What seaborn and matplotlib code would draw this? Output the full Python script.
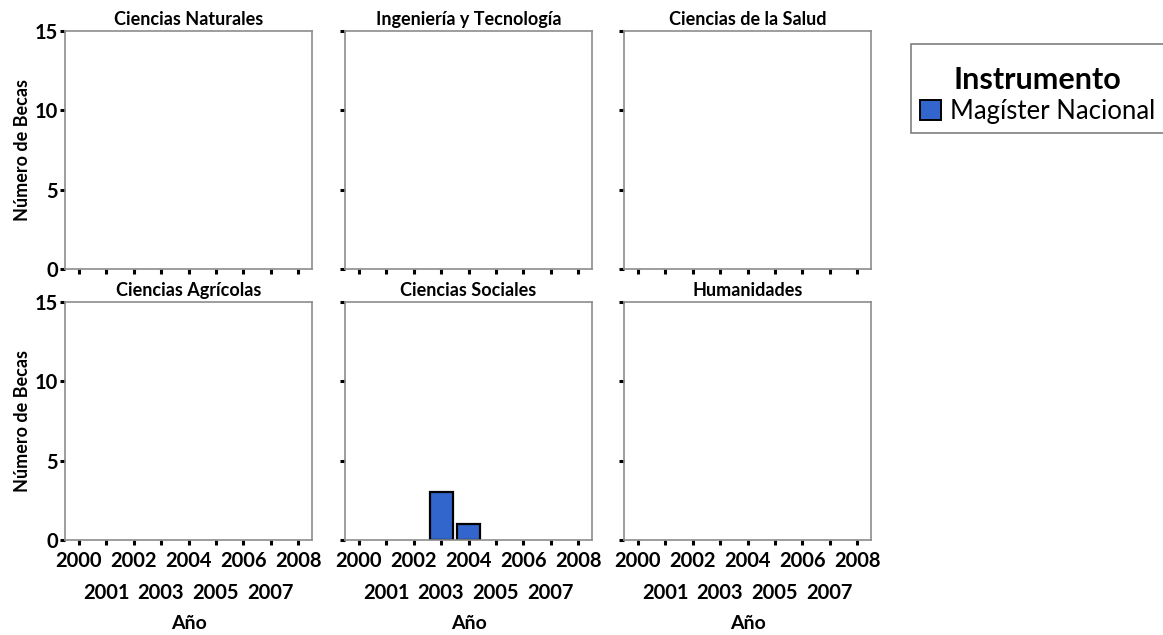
import matplotlib
matplotlib.use("Agg")
import matplotlib.pyplot as plt
from matplotlib.patches import Patch, Rectangle
import seaborn as sns
import pandas as pd

sns.set_theme(style="white")
plt.rcParams['font.family'] = ['Lato', 'DejaVu Sans']
plt.rcParams.update({"text.color": "black", "axes.labelcolor": "black",
                     "xtick.color": "black", "ytick.color": "black"})

areas = ["Ciencias Naturales", "Ingeniería y Tecnología", "Ciencias de la Salud",
         "Ciencias Agrícolas", "Ciencias Sociales", "Humanidades"]
years = ["2000", "2001", "2002", "2003", "2004", "2005", "2006", "2007", "2008"]
magister_nacional = {
    "Ciencias Naturales":      [0, 0, 0, 0, 0, 0, 0, 0, 0],
    "Ingeniería y Tecnología": [0, 0, 0, 0, 0, 0, 0, 0, 0],
    "Ciencias de la Salud":    [0, 0, 0, 0, 0, 0, 0, 0, 0],
    "Ciencias Agrícolas":      [0, 0, 0, 0, 0, 0, 0, 0, 0],
    "Ciencias Sociales":       [0, 0, 0, 3, 1, 0, 0, 0, 0],
    "Humanidades":             [0, 0, 0, 0, 0, 0, 0, 0, 0],
}
instrument = "Magíster Nacional"
yticks = [0, 5, 10, 15]

rows = []
for a in areas:
    for y, v in zip(years, magister_nacional[a]):
        rows.append({"Área": a, "Año": y, "Becas": v, "Instrumento": instrument})
df = pd.DataFrame(rows)

W, H = 1163, 635
fig = plt.figure(figsize=(W / 100, H / 100), dpi=100)
bar_color = "#3366CC"
spine_col = "#8c8c8c"

lefts = [65, 345, 624]
tops = [31, 302]
aw, ah = 247, 238

even_idx = [k for k in range(len(years)) if k % 2 == 0]
odd_idx = [k for k in range(len(years)) if k % 2 == 1]

for i, a in enumerate(areas):
    r, c = divmod(i, 3)
    ax = fig.add_axes([lefts[c] / W, 1 - (tops[r] + ah) / H, aw / W, ah / H])
    sub = df[df["Área"] == a]
    sns.barplot(data=sub, x="Año", y="Becas", order=years, color=bar_color,
                saturation=1, width=0.84, edgecolor="black", linewidth=1.6,
                errorbar=None, ax=ax)
    for p in ax.patches:
        if p.get_height() == 0:
            p.set_visible(False)
    ax.set_xlim(-0.5, len(years) - 0.5)
    ax.set_ylim(0, 15)
    ax.set_yticks(yticks)
    ax.set_xticks(even_idx)
    ax.set_xticks(odd_idx, minor=True)
    for s in ax.spines.values():
        s.set_color(spine_col)
        s.set_linewidth(1.2)
    ax.tick_params(axis="both", which="both", direction="out", length=3.8,
                   width=2.2, color="black", bottom=True, left=True)
    ax.tick_params(axis="x", which="major", pad=4)
    ax.tick_params(axis="x", which="minor", pad=27)
    ax.tick_params(axis="y", pad=1.5)
    ax.set_title(a, fontsize=13, fontweight="bold", pad=4)
    if c == 0:
        ax.set_yticklabels([str(t) for t in yticks], fontsize=14.5, fontweight="bold")
        ax.set_ylabel("Número de Becas", fontsize=13, fontweight="bold", labelpad=2.5)
    else:
        ax.set_yticklabels([])
        ax.set_ylabel("")
    if r == 1:
        ax.set_xticklabels([years[k] for k in even_idx], fontsize=14.5, fontweight="bold")
        ax.set_xticklabels([years[k] for k in odd_idx], minor=True, fontsize=14.5,
                           fontweight="bold")
        ax.set_xlabel("Año", fontsize=14, fontweight="bold", labelpad=9)
    else:
        ax.set_xticklabels([])
        ax.set_xticklabels([], minor=True)
        ax.set_xlabel("")

# legend frame (extends past the right edge, as in the original)
fig.patches.append(Rectangle((911 / W, 1 - 133 / H), 270 / W, 89 / H,
                             transform=fig.transFigure, facecolor="white",
                             edgecolor="#7f7f7f", linewidth=1.2, zorder=0))
handles = [Patch(facecolor=bar_color, edgecolor="black", linewidth=1.4, label=instrument)]
leg = fig.legend(handles=handles, title="Instrumento", loc="upper left",
                 bbox_to_anchor=(920 / W, 1 - 66 / H), frameon=False,
                 fontsize=18.5, title_fontproperties={"size": 22, "weight": "bold"},
                 handlelength=0.8, handleheight=0.8, handletextpad=0.35,
                 borderpad=0, borderaxespad=0, labelspacing=0.2)

fig.savefig("out.png", dpi=100)
